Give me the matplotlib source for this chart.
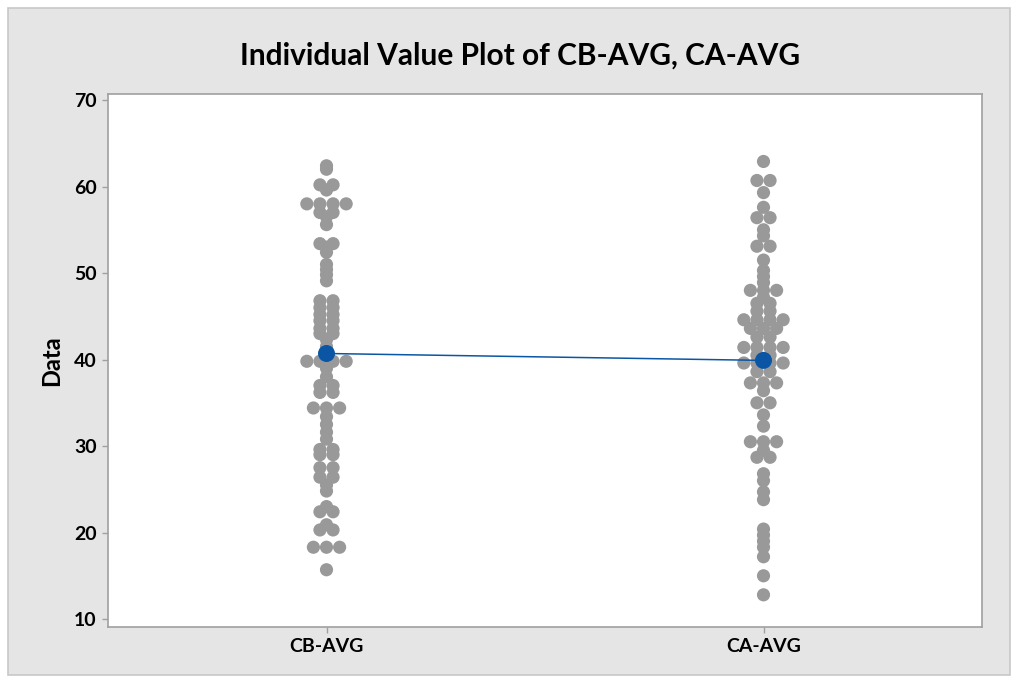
import numpy as np
import matplotlib.pyplot as plt
from matplotlib.patches import Rectangle

# values
categories = ["CB-AVG", "CA-AVG"]

cb_avg = [62.4, 62.0,
          60.2, 60.2, 59.6, 58.0, 58.0, 58.0, 58.0, 57.0, 57.0, 56.5, 55.6,
          53.4, 53.4, 53.0, 52.4, 51.0, 50.4, 49.8, 49.1,
          46.8, 46.8, 46.0, 46.0, 45.2, 45.2, 44.5, 44.5, 43.6, 43.6, 43.0, 43.0,
          42.3, 41.5,
          39.8, 39.8, 39.8, 39.8,
          39.0, 38.0, 37.0, 37.0, 36.2, 36.2, 34.4, 34.4, 34.4,
          33.4, 32.5, 31.6, 30.8, 29.6, 29.6, 29.0, 29.0, 27.5, 27.5, 26.4, 26.4,
          25.5, 24.8, 23.0, 22.4, 22.4, 20.9, 20.3, 20.3,
          18.3, 18.3, 18.3, 15.7]

ca_avg = [62.9, 60.7, 60.7, 59.3, 57.6, 56.4, 56.4, 55.0, 54.3, 53.1, 53.1,
          51.5, 50.3, 49.6, 48.9, 48.0, 48.0, 48.0, 47.2, 46.5, 46.5,
          45.6, 45.6, 44.6, 44.6, 44.6, 44.6, 43.6, 43.6, 43.6, 42.6, 42.6,
          41.4, 41.4, 41.4, 41.4, 40.5, 40.5, 39.6, 39.6, 39.6, 39.6,
          38.6, 38.6, 37.3, 37.3, 37.3, 36.4, 35.0, 35.0, 33.6, 32.3,
          30.5, 30.5, 30.5, 29.5, 28.7, 28.7, 26.8, 26.0, 24.7, 23.8,
          20.4, 19.7, 19.0, 18.3, 17.2, 15.0, 12.8]

# means shown by Minitab
group_means = [40.7, 39.9]

yticks = [10, 20, 30, 40, 50, 60, 70]


def spread(values, pos, step=0.03):
    # put equal values side by side, centred on the category
    vals = np.asarray(values)
    xs = np.full(len(vals), float(pos))
    for v in np.unique(vals):
        idx = np.where(vals == v)[0]
        n = len(idx)
        xs[idx] = pos + (np.arange(n) - (n - 1) / 2) * step
    return xs, vals


plt.rcParams['font.family'] = ['Lato', 'DejaVu Sans']

fig = plt.figure(figsize=(10.18, 6.83), dpi=100, facecolor='white')
fig.patches.append(Rectangle((8 / 1018, 8 / 683), 1002 / 1018, 667 / 683,
                             transform=fig.transFigure, facecolor='#e5e5e5',
                             edgecolor='#c8c8c8', linewidth=1.2, zorder=-1))

ax = fig.add_axes([108 / 1018, 56 / 683, 874 / 1018, 533 / 683])
ax.set_facecolor('white')

for i, data in enumerate([cb_avg, ca_avg], start=1):
    xs, ys = spread(data, i)
    ax.scatter(xs, ys, s=90, color='#999999', edgecolors='none', zorder=2)

positions = np.arange(1, len(categories) + 1)
ax.plot(positions, group_means, color='#0b56a4', linewidth=1.1, zorder=3)
ax.scatter(positions, group_means, s=150, color='#0b56a4', edgecolors='none', zorder=4)

ax.set_xlim(0.5, 2.5)
ax.set_ylim(9.08, 70.7)
ax.set_xticks(positions)
ax.set_xticklabels(categories, fontsize=14, fontweight='bold')
ax.set_yticks(yticks)
ax.set_yticklabels([str(t) for t in yticks], fontsize=14, fontweight='bold')
ax.tick_params(colors='#a0a0a0', labelcolor='black', length=4, width=1, pad=4)
for sp in ax.spines.values():
    sp.set_color('#a0a0a0')
    sp.set_linewidth(1.2)

ax.set_ylabel("Data", fontsize=17, fontweight='bold', labelpad=8)
fig.text(0.511, 0.918, "Individual Value Plot of CB-AVG, CA-AVG",
         ha='center', va='center', fontsize=21.5, fontweight='bold')

fig.savefig("out.png", dpi=100, facecolor=fig.get_facecolor())
